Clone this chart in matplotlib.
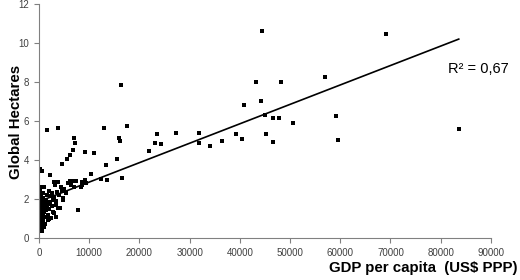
import numpy as np
import matplotlib
matplotlib.use("Agg")
import matplotlib.pyplot as plt

# GDP per capita (US$ PPP) and footprint (global hectares)
gdp = [44480, 69180, 56970, 43230, 48150, 44290, 40900, 44960, 46550, 47810,
       59100, 50600, 83600, 59620, 31810, 31930, 34060, 36450, 39180, 40370,
       45160, 46550, 16330, 13010, 17470, 16000, 16200, 23440, 27290, 23110,
       24370, 21970, 11020, 13350, 15600, 10360, 12350, 13550, 16530,
       1650, 3850, 6910, 7230, 6710, 9160, 6110, 5510, 4650, 200, 540, 2190,
       6180, 6830, 7300, 8500, 9160, 9360, 8370, 8630, 7830,
       3720, 3190, 5720, 4650, 3050,
       100, 540, 1000, 2060, 2390, 3390, 4050, 4710, 4850, 3720, 4180, 3050,
       3390, 2390, 2060, 1730, 1390, 1060, 1390, 730, 200, 730,
       150, 300, 500, 250, 450, 650, 150, 350, 600, 800, 200, 450, 700, 950,
       300, 550, 850, 150, 400, 650, 1000, 250, 500, 800, 1100, 350, 600, 900,
       200, 450, 750, 1200, 300, 1600, 1800, 2000, 2200, 2500, 2800, 1500,
       2600, 3000, 3500, 1300, 1700, 2700, 3300, 1200, 900, 500,
       5300, 5000, 4400, 6300, 7000]
hectares = [10.6, 10.46, 8.24, 7.98, 7.98, 7.01, 6.84, 6.29, 6.14, 6.17,
            6.25, 5.88, 5.57, 5.03, 5.40, 4.89, 4.73, 4.99, 5.32, 5.06,
            5.32, 4.91, 7.86, 5.66, 5.74, 5.11, 4.97, 5.32, 5.38, 4.86,
            4.82, 4.44, 4.36, 3.76, 4.03, 3.26, 3.04, 2.99, 3.09,
            5.52, 5.66, 5.11, 4.86, 4.53, 4.41, 4.26, 4.07, 3.79, 3.52, 3.45, 3.23,
            2.92, 2.92, 2.94, 2.85, 2.97, 2.84, 2.63, 2.72, 1.42,
            2.87, 2.73, 2.82, 2.43, 2.89,
            2.32, 2.6, 2.6, 2.39, 2.14, 1.88, 2.22, 2.05, 1.95, 1.54, 1.52, 1.28,
            1.06, 1.03, 0.97, 1.2, 1.45, 1.7, 1.96, 2.31, 2.39, 2.05,
            0.45, 0.55, 0.5, 0.7, 0.75, 0.65, 0.85, 0.9, 0.88, 0.8, 1.0, 1.05, 1.0, 1.1,
            1.15, 1.2, 1.25, 1.3, 1.35, 1.4, 1.35, 1.5, 1.55, 1.6, 1.5, 1.7, 1.75, 1.8,
            1.85, 1.95, 2.0, 1.9, 2.1, 1.6, 1.75, 1.5, 1.85, 1.65, 1.95, 2.2,
            2.3, 2.1, 2.35, 1.1, 0.9, 1.35, 1.7, 0.7, 0.55, 0.35,
            2.3, 2.5, 2.6, 2.7, 2.6]

# linear trend line as drawn
trend_intercept = 1.87
trend_slope = 9.96e-5
trend_range = [250, 83600]
r2_label = "R² = 0,67"

plt.rcParams['font.family'] = ['Liberation Sans', 'DejaVu Sans']

fig = plt.figure(figsize=(5.2, 2.8), dpi=100)
ax = fig.add_axes([0.075, 0.15, 0.869, 0.836])

ax.plot(gdp, hectares, 's', color='black', markersize=3.0, markeredgewidth=0)
tx = np.array(trend_range)
ax.plot(tx, trend_intercept + trend_slope * tx, color='black', linewidth=1.2)

ax.set_xlim(0, 90000)
ax.set_ylim(0, 12)
ax.set_xticks(np.arange(0, 90001, 10000))
ax.set_yticks(np.arange(0, 13, 2))
ax.tick_params(labelsize=7, colors='#808080', labelcolor='#404040', length=3.5, width=0.8)
for s in ['top', 'right']:
    ax.spines[s].set_visible(False)
for s in ['left', 'bottom']:
    ax.spines[s].set_color('#808080')
    ax.spines[s].set_linewidth(0.8)

ax.text(0.905, 0.72, r2_label, transform=ax.transAxes, fontsize=10.5, va='center', ha='left')
fig.text(0.996, 0.042, "GDP per capita  (US$ PPP)", fontsize=10.8, fontweight='bold', ha='right', va='center')
fig.text(0.03, 0.565, "Global Hectares", fontsize=10.8, fontweight='bold', rotation=90, ha='center', va='center')

fig.savefig("out.png", dpi=100)
